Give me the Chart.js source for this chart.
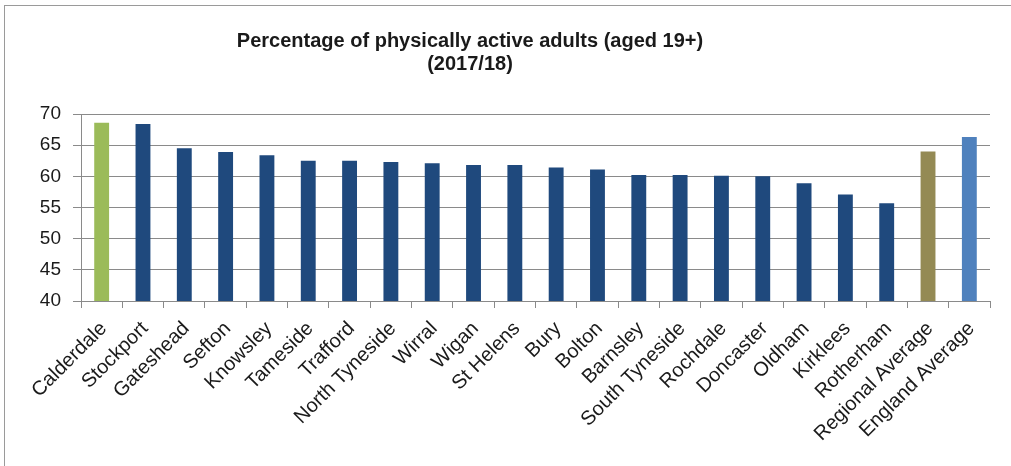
<!DOCTYPE html>
<html lang="en">
<head>
    <meta charset="utf-8">
    <title>Physically active adults</title>
    <style>
      * {
        margin: 0;
        padding: 0;
      }
      body {
        background: white;
        width: 1011px;
        height: 466px;
        overflow: hidden;
        position: relative;
      }
      .frame {
        position: absolute;
        left: 4px;
        top: 5px;
        width: 1100px;
        height: 600px;
        border: 1px solid #9a9a9a;
      }
      .chartBox {
        position: absolute;
        left: 0;
        top: 0;
        width: 1011px;
        height: 466px;
      }
    </style>
</head>
<body>
    <div class="frame"></div>
    <div class="chartBox">
      <canvas id="activeChart"></canvas>
    </div>
    <script src="https://cdn.jsdelivr.net/npm/chart.js/dist/chart.umd.min.js"></script>
    <script>
        const areas = ['Calderdale', 'Stockport', 'Gateshead', 'Sefton', 'Knowsley', 'Tameside',
            'Trafford', 'North Tyneside', 'Wirral', 'Wigan', 'St Helens', 'Bury', 'Bolton',
            'Barnsley', 'South Tyneside', 'Rochdale', 'Doncaster', 'Oldham', 'Kirklees',
            'Rotherham', 'Regional Average', 'England Average'];
        const activePercent = [68.6, 68.4, 64.5, 63.9, 63.4, 62.5, 62.5, 62.3, 62.1, 61.8, 61.8,
            61.4, 61.1, 60.2, 60.2, 60.1, 60.0, 58.9, 57.1, 55.7, 64.0, 66.3];
        const titleLines = ['Percentage of physically active adults (aged 19+)', '(2017/18)'];

        // bar colours: highlight first area and the two averages
        const barColours = areas.map((name, i) => {
            if (i === 0) return '#9BBB59';
            if (name === 'Regional Average') return '#948A54';
            if (name === 'England Average') return '#4F81BD';
            return '#1F497D';
        });

        // title sits a little left of the canvas centre in the original, so draw it here
        const offsetTitle = {
            id: 'offsetTitle',
            afterDraw(chart) {
                const c = chart.ctx;
                c.save();
                c.font = 'bold 20px "Liberation Sans"';
                c.fillStyle = '#1a1a1a';
                c.textAlign = 'center';
                c.textBaseline = 'middle';
                titleLines.forEach((line, i) => c.fillText(line, 470, 41 + i * 23));
                c.restore();
            }
        };

        const ctx = document.getElementById('activeChart').getContext('2d');
        new Chart(ctx, {
            type: 'bar',
            data: {
                labels: areas,
                datasets: [{
                    data: activePercent,
                    backgroundColor: barColours,
                    categoryPercentage: 0.72,
                    barPercentage: 0.5
                }]
            },
            plugins: [offsetTitle],
            options: {
                responsive: true,
                maintainAspectRatio: false,
                animation: false,
                layout: {
                    padding: { top: 114, left: 30, right: 21, bottom: 0 }
                },
                plugins: {
                    legend: { display: false },
                    tooltip: { enabled: false },
                    title: { display: false }
                },
                scales: {
                    x: {
                        afterFit: axis => { axis.height = 165; },
                        grid: {
                            offset: true,
                            drawOnChartArea: false,
                            drawTicks: true,
                            tickLength: 7,
                            color: '#8a8a8a'
                        },
                        border: { color: '#8a8a8a' },
                        ticks: {
                            autoSkip: false,
                            maxRotation: 45,
                            minRotation: 45,
                            padding: 9,
                            labelOffset: 2,
                            color: '#1a1a1a',
                            font: { family: 'Liberation Sans', size: 20 }
                        }
                    },
                    y: {
                        min: 40,
                        max: 70,
                        afterFit: axis => { axis.width = 51; },
                        grid: {
                            color: '#8a8a8a',
                            tickLength: 8
                        },
                        border: { color: '#8a8a8a' },
                        ticks: {
                            stepSize: 5,
                            padding: 12,
                            color: '#1a1a1a',
                            font: { family: 'Liberation Sans', size: 19 }
                        }
                    }
                }
            }
        });
    </script>
</body>
</html>
